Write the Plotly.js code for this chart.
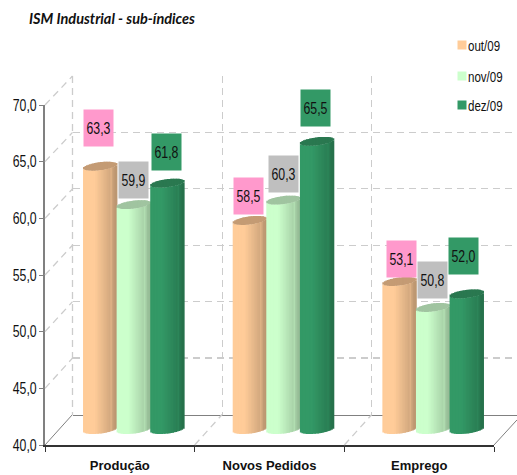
<!DOCTYPE html>
<html>
<head>
<meta charset="utf-8">
<script src="https://cdn.plot.ly/plotly-3.0.1.min.js"></script>
<style>html,body{margin:0;padding:0;background:#fff}#c{width:517px;height:475px}</style>
</head>
<body>
<div id="c"></div>
<script>
const categories = ['Produção', 'Novos Pedidos', 'Emprego'];
const seriesNames = ['out/09', 'nov/09', 'dez/09'];
const out09 = [63.3, 58.5, 53.1];
const nov09 = [59.9, 60.3, 50.8];
const dez09 = [61.8, 65.5, 52.0];
const yTickValues = [40, 45, 50, 55, 60, 65, 70];
const yTickLabels = ['40,0', '45,0', '50,0', '55,0', '60,0', '65,0', '70,0'];

const W = 517, H = 475;
const FONT = '"Liberation Sans", Arial, sans-serif';
const seriesValues = [out09, nov09, dez09];
const bodyRGB = [[255, 204, 153], [204, 255, 204], [51, 153, 102]];
const capColor = ['#c49b74', '#a0c4a0', '#2a7850'];
const boxColor = ['#ff99cc', '#bfbfbf', '#339966'];
// label-box centre relative to its cylinder top, in px: [series][category] = [right, up]
const labelShift = [
  [[-1.4, 38], [-1, 24.5], [2, 22.5]],
  [[0, 24.6], [0, 26], [0, 27.5]],
  [[0, 31], [-1, 33.4], [-3, 38]]
];
const catW = 149.67, pxY = 11.3;
const frontL = 45, frontR = 494, frontT = 105, frontB = 445;
const backL = 72.5, backT = 76, backB = 414.5;
const midDX = 13.5, midB = 429.5;
const barStep = 33.6 / catW, stripN = 22, stripW = 33.4 / catW / stripN, stripLap = 1 / catW;
const capH = 4, capTilt = 2;

const dx = (a, b) => [a / W, b / W];
const dy = (t, b) => [1 - b / H, 1 - t / H];
const traces = [];

// back wall
traces.push({type: 'scatter', x: [], y: [], xaxis: 'x', yaxis: 'y', hoverinfo: 'skip', showlegend: false});

// cylinders: narrow strips shaped by the library's bar scale
function shade(rgb, t) {
  let f = t < 0.35 ? 1 : 1 - 0.24 * (t - 0.35) / 0.65;
  if (t > 0.8 && t < 0.88) f += 0.05;
  if (t >= 0.93) f -= 0.03;
  return 'rgb(' + rgb.map(c => Math.round(c * f)).join(',') + ')';
}
seriesValues.forEach((vals, si) => {
  for (let k = 0; k < stripN; k++) {
    const t = (k + 0.5) / stripN, u = 2 * t - 1, s = Math.sqrt(1 - u * u);
    const low = (capTilt * u - capH * s) / pxY, high = (capTilt * u + capH * s) / pxY;
    const xs = categories.map((c, i) => i + (si - 1) * barStep);
    const off = -stripW * stripN / 2 + k * stripW;
    traces.push({
      type: 'bar', xaxis: 'x2', yaxis: 'y2', x: xs, base: vals.map(() => 40 + low),
      y: vals.map(v => v - 40), offset: off, width: stripW + stripLap,
      marker: {color: shade(bodyRGB[si], t), line: {width: 0}},
      hoverinfo: 'skip', showlegend: false
    });
    traces.push({
      type: 'bar', xaxis: 'x2', yaxis: 'y2', x: xs, base: vals.map(v => v + low),
      y: vals.map(() => high - low), offset: off, width: stripW + stripLap,
      marker: {color: capColor[si], line: {width: 0}},
      hoverinfo: 'skip', showlegend: false
    });
  }
});

// front axes
traces.push({type: 'scatter', x: [], y: [], xaxis: 'x3', yaxis: 'y3', hoverinfo: 'skip', showlegend: false});

// key swatches
const keyY = [45, 76, 105];
seriesNames.forEach((n, i) => traces.push({
  type: 'scatter', mode: 'markers', name: n, xaxis: 'x4', yaxis: 'y4',
  x: [462], y: [keyY[i]], showlegend: false, hoverinfo: 'name',
  marker: {symbol: 'square', size: 9, color: 'rgb(' + bodyRGB[i].join(',') + ')', line: {width: 0}}
}));

const shapes = [];
const seg = (x0, y0, x1, y1, color, dash, width) => shapes.push({
  type: 'line', xref: 'x4', yref: 'y4', layer: 'below', x0, y0, x1, y1,
  line: {color, dash, width}
});
const frontY = v => frontB - (v - 40) * (frontB - frontT) / 30;
const backY = v => backB - (v - 40) * (backB - backT) / 30;
yTickValues.forEach(v => {
  if (v === 40) seg(frontL, frontY(v), backL, backY(v), '#808080', 'solid', 1);
  else seg(frontL, frontY(v), backL, backY(v), '#cccccc', '7px,5px', 1.3);
});
[1, 2].forEach(i => seg(frontL + i * catW, frontB, backL + i * catW, backB, '#cccccc', '7px,5px', 1.3));
seg(frontR, frontB, 517, frontB - 23 * 30 / 27.5, '#808080', 'solid', 1);
seg(backL, backT, backL, backB, '#cccccc', '7px,5px', 1.3);

const annotations = [];
seriesValues.forEach((vals, si) => vals.forEach((v, i) => {
  const sh = labelShift[si][i];
  annotations.push({
    xref: 'x2', yref: 'y2', x: i + (si - 1) * barStep, y: v, xshift: sh[0], yshift: sh[1],
    text: v.toFixed(1).replace('.', ','), showarrow: false, bgcolor: boxColor[si],
    width: 29, height: 36, borderpad: 0, align: 'center', valign: 'middle',
    font: {family: FONT, size: 16.5, color: '#111'}
  });
}));
seriesNames.forEach((n, i) => annotations.push({
  xref: 'x4', yref: 'y4', x: 467, y: keyY[i], xanchor: 'left', yanchor: 'middle',
  text: n, showarrow: false, bgcolor: '#fff', borderpad: 0,
  font: {family: FONT, size: 15, color: '#111'}
}));

const bounds = [-0.5, 0.5, 1.5, 2.5];
const hiddenAxis = {visible: false, fixedrange: true};
const layout = {
  width: W, height: H, margin: {l: 0, r: 0, t: 0, b: 0, pad: 0},
  paper_bgcolor: '#fff', plot_bgcolor: 'rgba(0,0,0,0)',
  barmode: 'overlay', showlegend: false, hovermode: false,
  title: {
    text: 'ISM Industrial - sub-índices', x: 29 / W, xanchor: 'left', xref: 'paper',
    y: 1 - 19 / H, yanchor: 'middle',
    font: {family: 'Lato, sans-serif', size: 14.5, weight: 'bold', style: 'italic', color: '#111'}
  },
  // back wall
  xaxis: {
    domain: dx(backL, W), anchor: 'y', range: [-0.5, -0.5 + (W - backL) / catW],
    tickmode: 'array', tickvals: bounds, ticks: '', showticklabels: false,
    showgrid: true, gridcolor: '#cccccc', griddash: '7px,5px', gridwidth: 1.3,
    showline: true, linecolor: '#808080', linewidth: 1, zeroline: false, fixedrange: true
  },
  yaxis: {
    domain: dy(backT, backB), anchor: 'x', range: [40, 70],
    tickmode: 'array', tickvals: yTickValues, ticks: '', showticklabels: false,
    showgrid: true, gridcolor: '#cccccc', griddash: '7px,5px', gridwidth: 1.3,
    showline: false, zeroline: false, fixedrange: true
  },
  // cylinders, half way through the depth
  xaxis2: Object.assign({}, hiddenAxis, {
    domain: dx(frontL + midDX, frontR + midDX), anchor: 'y2', range: [-0.5, 2.5]
  }),
  yaxis2: Object.assign({}, hiddenAxis, {
    domain: dy(midB - 31 * pxY, midB + pxY), anchor: 'x2', range: [39, 71]
  }),
  // front axes
  xaxis3: {
    domain: dx(frontL, frontR), anchor: 'y3', range: [-0.5, 2.5],
    tickmode: 'array', tickvals: [0, 1, 2], ticktext: categories, ticks: '',
    minor: {tickmode: 'array', tickvals: bounds, ticks: 'outside', ticklen: 5, tickwidth: 1, tickcolor: '#333', showgrid: false},
    tickfont: {family: FONT, size: 13, weight: 'bold', color: '#111'}, ticklabelstandoff: 8,
    showgrid: false, showline: true, linecolor: '#333333', linewidth: 1.5, zeroline: false, fixedrange: true
  },
  yaxis3: {
    domain: dy(frontT, frontB), anchor: 'x3', range: [40, 70],
    tickmode: 'array', tickvals: yTickValues, ticktext: yTickLabels,
    ticks: 'outside', ticklen: 4, tickwidth: 1, tickcolor: '#808080',
    tickfont: {family: FONT, size: 16.5, color: '#111'}, ticklabelstandoff: -1,
    showgrid: false, showline: true, linecolor: '#808080', linewidth: 2, zeroline: false, fixedrange: true
  },
  // pixel frame for key and depth lines
  xaxis4: Object.assign({}, hiddenAxis, {domain: [0, 1], anchor: 'y4', range: [0, W]}),
  yaxis4: Object.assign({}, hiddenAxis, {domain: [0, 1], anchor: 'x4', range: [H, 0]}),
  shapes, annotations
};
Plotly.newPlot('c', traces, layout, {displayModeBar: false, staticPlot: true}).then(() => {
  // the reference uses a condensed face: narrow the real text
  const narrow = (el, k) => {
    const len = el.getComputedTextLength();
    el.setAttribute('textLength', (len * k).toFixed(1));
    el.setAttribute('lengthAdjust', 'spacingAndGlyphs');
    return len * (1 - k);
  };
  document.querySelectorAll('.yaxislayer-above text').forEach(el => narrow(el, 0.745));
  document.querySelectorAll('.annotation-text').forEach(el => {
    if (el.textContent.includes('/09')) {
      const lost = narrow(el, 0.77);
      el.setAttribute('transform', 'translate(' + (-lost / 2) + ',0)');
    } else narrow(el, 0.745);
  });
});
</script>
</body>
</html>
